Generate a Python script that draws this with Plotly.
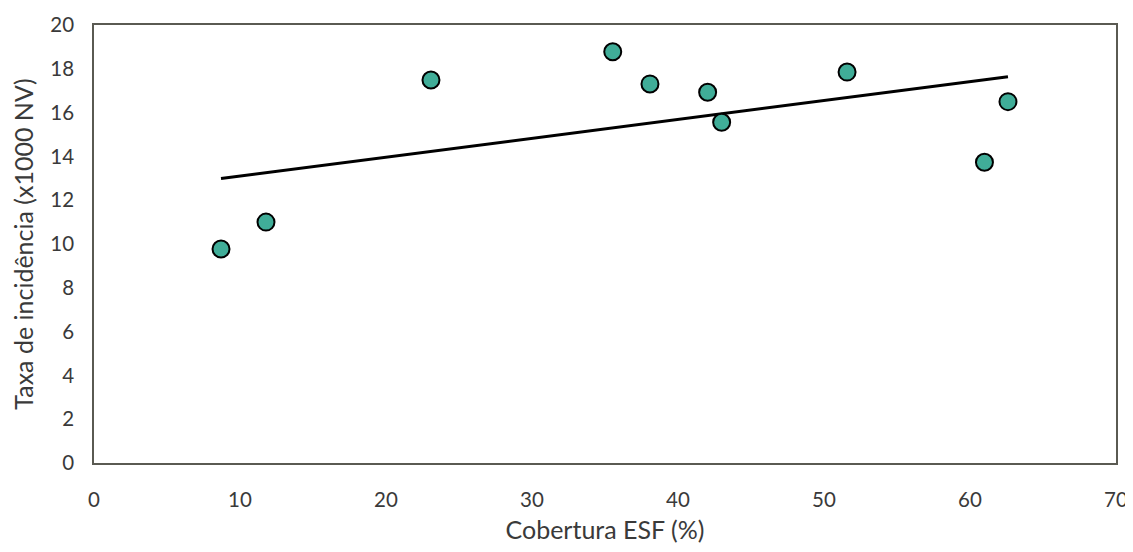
import numpy as np
import plotly.graph_objects as go

cobertura = [8.70, 11.78, 23.08, 35.53, 38.08, 42.03, 42.99, 51.58, 60.99, 62.6]
taxa = [9.77, 11.0, 17.49, 18.78, 17.31, 16.93, 15.56, 17.85, 13.73, 16.5]

x_title = "Cobertura ESF (%)"
y_title = "Taxa de incidência (x1000 NV)"

slope, intercept = np.polyfit(cobertura, taxa, 1)
x_fit = [min(cobertura), max(cobertura)]
y_fit = [slope * v + intercept for v in x_fit]

font_family = "Lato, 'Open Sans', sans-serif"
text_color = "#3a3a3a"

fig = go.Figure()
fig.add_trace(go.Scatter(x=x_fit, y=y_fit, mode="lines",
                         line=dict(color="black", width=3), showlegend=False,
                         hoverinfo="skip"))
fig.add_trace(go.Scatter(x=cobertura, y=taxa, mode="markers",
                         marker=dict(size=17, color="#40ad98",
                                     line=dict(color="black", width=2)),
                         showlegend=False))

# page body has an 8px margin, so the figure is offset by 8px
fig.update_layout(
    width=1125, height=536,
    margin=dict(l=86, r=17, t=17, b=81),
    paper_bgcolor="white", plot_bgcolor="white",
    font=dict(family=font_family, size=20.5, color=text_color),
    xaxis=dict(range=[0, 70], dtick=10, showgrid=False, zeroline=False,
               showline=True, mirror=True, linecolor="#5a5a52", linewidth=1.5,
               ticks="outside", ticklen=18, tickcolor="rgba(0,0,0,0)",
               automargin=False,
               title=dict(text=x_title, standoff=22)),
    yaxis=dict(range=[0, 20], dtick=2, showgrid=False, zeroline=False,
               showline=True, mirror=True, linecolor="#5a5a52", linewidth=1.5,
               ticks="outside", ticklen=14, tickcolor="rgba(0,0,0,0)",
               automargin=False,
               title=dict(text=y_title, standoff=12)),
)

fig.write_html("out.html")
